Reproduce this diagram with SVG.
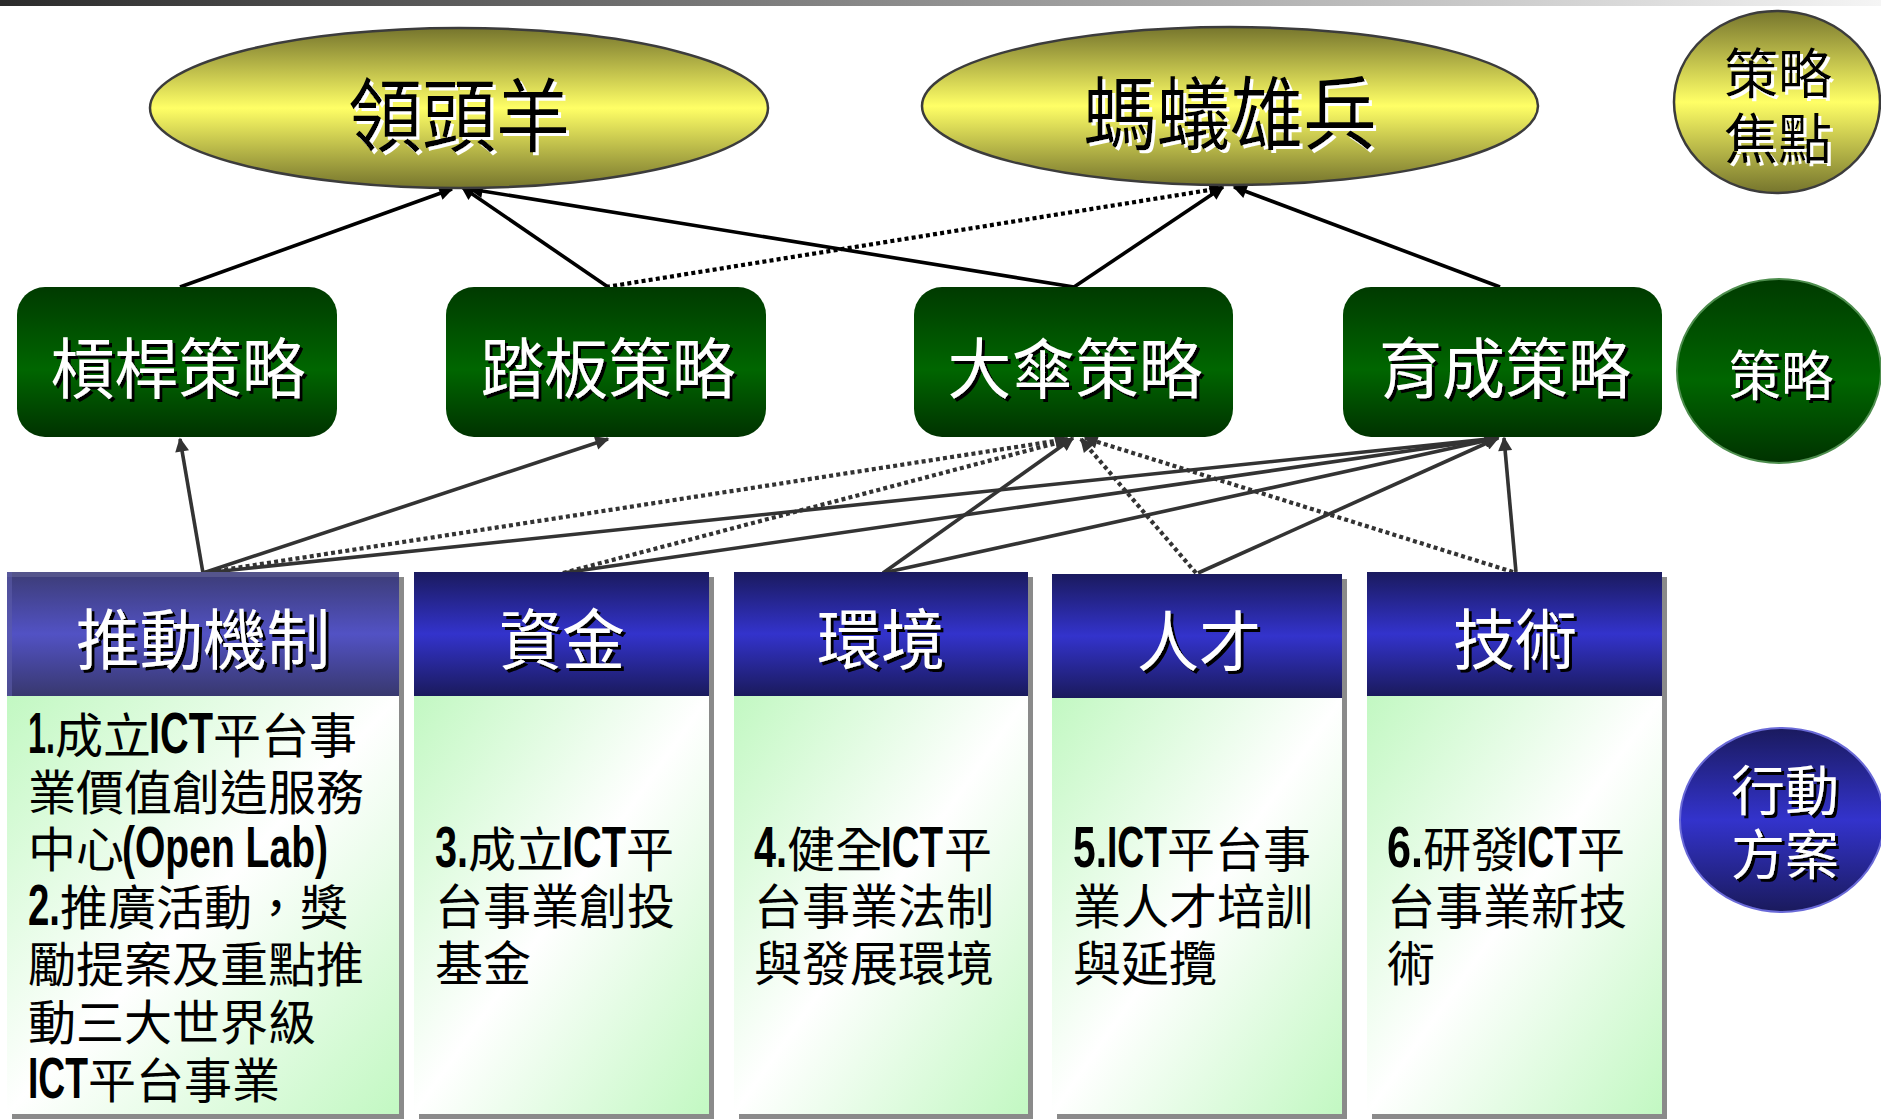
<svg xmlns="http://www.w3.org/2000/svg" width="1881" height="1119" viewBox="0 0 1881 1119">
<defs>
<linearGradient id="topbar" x1="0" y1="0" x2="1" y2="0"><stop offset="0" stop-color="#2b2b2b"/><stop offset="1" stop-color="#f5f5f5"/></linearGradient>
<linearGradient id="yel" x1="0" y1="0" x2="0" y2="1"><stop offset="0" stop-color="#76752d"/><stop offset="0.5" stop-color="#ffff66"/><stop offset="1" stop-color="#76752d"/></linearGradient>
<linearGradient id="grn" x1="0" y1="0" x2="0" y2="1"><stop offset="0" stop-color="#003a00"/><stop offset="0.55" stop-color="#006600"/><stop offset="1" stop-color="#003200"/></linearGradient>
<linearGradient id="blu" x1="0" y1="0" x2="0" y2="1"><stop offset="0" stop-color="#1a1a5e"/><stop offset="0.5" stop-color="#3333cc"/><stop offset="1" stop-color="#1a1a5c"/></linearGradient>
<linearGradient id="pur" x1="0" y1="0" x2="0" y2="1"><stop offset="0" stop-color="#3c3c76"/><stop offset="0.5" stop-color="#5252c4"/><stop offset="1" stop-color="#38386e"/></linearGradient>
<linearGradient id="body" x1="0" y1="0" x2="1" y2="1"><stop offset="0" stop-color="#c2f8c2"/><stop offset="0.5" stop-color="#ffffff"/><stop offset="1" stop-color="#c2f8c2"/></linearGradient>
<filter id="shd" x="-10%" y="-10%" width="130%" height="140%"><feDropShadow dx="3" dy="3" stdDeviation="0.4" flood-color="#000" flood-opacity="1"/></filter>
<filter id="shw" x="-10%" y="-10%" width="130%" height="140%"><feDropShadow dx="3" dy="3" stdDeviation="0.4" flood-color="#fff" flood-opacity="1"/></filter>
<marker id="ahk" viewBox="0 0 10 10" refX="9" refY="5" markerWidth="17" markerHeight="14" markerUnits="userSpaceOnUse" orient="auto"><path d="M0,0 L10,5 L0,10 z" fill="#000"/></marker>
<marker id="ahg" viewBox="0 0 10 10" refX="9" refY="5" markerWidth="17" markerHeight="14" markerUnits="userSpaceOnUse" orient="auto"><path d="M0,0 L10,5 L0,10 z" fill="#333"/></marker>
<style>
.cjk{font-family:"Noto Sans CJK TC","Noto Sans CJK SC",sans-serif;}
.ttl{font-size:80px;fill:#000;filter:url(#shw);text-anchor:middle;}
.lbl{font-size:54px;fill:#000;filter:url(#shw);text-anchor:middle;}
.wlbl{font-size:54px;fill:#fff;filter:url(#shd);text-anchor:middle;}
.str{font-size:66px;fill:#fff;filter:url(#shd);text-anchor:middle;}
.hdr{font-size:66px;fill:#fff;filter:url(#shd);text-anchor:middle;}
.bt{font-size:48px;fill:#000;}
.lat{font-family:"Liberation Sans Narrow","Liberation Sans",Arial,sans-serif;font-weight:bold;font-size:57px;}
.ell{fill:url(#yel);stroke:#3c3c3c;stroke-width:2.5;}
.srect{fill:url(#grn);}
.hd{fill:url(#blu);}
.sh{fill:#8a8a8a;}
.bd{fill:url(#body);}
.k{stroke:#000;stroke-width:3.6;fill:none;marker-end:url(#ahk);}
.g{stroke:#333;stroke-width:3.6;fill:none;marker-end:url(#ahg);}
.dot{stroke-dasharray:4 3.2;stroke-width:4.2;}
</style>
</defs>
<rect x="0" y="0" width="1881" height="6" fill="url(#topbar)"/>

<g id="connectors">
<line class="k" x1="180" y1="287" x2="452" y2="189"/>
<line class="k" x1="608" y1="287" x2="462" y2="187"/>
<line class="k" x1="1074" y1="287" x2="470" y2="189"/>
<line class="k dot" x1="606" y1="287" x2="1222" y2="188"/>
<line class="k" x1="1074" y1="287" x2="1223" y2="187"/>
<line class="k" x1="1500" y1="287" x2="1234" y2="187"/>

<line class="g" x1="203" y1="573" x2="180" y2="439"/>
<line class="g" x1="203" y1="573" x2="608" y2="439"/>
<line class="g dot" x1="203" y1="573" x2="1068" y2="439"/>
<line class="g" x1="203" y1="573" x2="1498" y2="438"/>
<line class="g dot" x1="563" y1="573" x2="1068" y2="440"/>
<line class="g" x1="563" y1="573" x2="1498" y2="438"/>
<line class="g" x1="883" y1="573" x2="1073" y2="438"/>
<line class="g" x1="883" y1="573" x2="1498" y2="438"/>
<line class="g dot" x1="1196" y1="573" x2="1081" y2="439"/>
<line class="g" x1="1198" y1="573" x2="1498" y2="438"/>
<line class="g dot" x1="1513" y1="572" x2="1085" y2="438"/>
<line class="g" x1="1516" y1="572" x2="1504" y2="438"/>
</g>

<g id="node-lingtouyang">
<ellipse class="ell" cx="459" cy="108" rx="309" ry="80"/>
<text class="cjk ttl" x="459" y="145" textLength="222" lengthAdjust="spacingAndGlyphs">領頭羊</text>
</g>
<g id="node-mayixiongbing">
<ellipse class="ell" cx="1230" cy="106" rx="308" ry="79"/>
<text class="cjk ttl" x="1230" y="143" textLength="293" lengthAdjust="spacingAndGlyphs">螞蟻雄兵</text>
</g>
<g id="node-celuejiaodian">
<ellipse class="ell" cx="1777" cy="102" rx="103" ry="91"/>
<text class="cjk lbl"><tspan x="1778" y="94">策略</tspan><tspan x="1778" y="159">焦點</tspan></text>
</g>

<g id="node-ganggan">
<rect class="srect" x="17" y="287" width="320" height="150" rx="28" ry="28"/>
<text class="cjk str" x="178" y="393" textLength="255" lengthAdjust="spacingAndGlyphs">槓桿策略</text>
</g>
<g id="node-taban">
<rect class="srect" x="446" y="287" width="320" height="150" rx="28" ry="28"/>
<text class="cjk str" x="608" y="393" textLength="255" lengthAdjust="spacingAndGlyphs">踏板策略</text>
</g>
<g id="node-dasan">
<rect class="srect" x="914" y="287" width="319" height="150" rx="28" ry="28"/>
<text class="cjk str" x="1075" y="393" textLength="255" lengthAdjust="spacingAndGlyphs">大傘策略</text>
</g>
<g id="node-yucheng">
<rect class="srect" x="1343" y="287" width="319" height="150" rx="28" ry="28"/>
<text class="cjk str" x="1505" y="393" textLength="252" lengthAdjust="spacingAndGlyphs">育成策略</text>
</g>
<g id="node-celue">
<ellipse cx="1779" cy="371" rx="102" ry="92" fill="url(#grn)" stroke="#4e8e4e" stroke-width="2"/>
<text class="cjk wlbl" x="1781" y="396" textLength="105" lengthAdjust="spacingAndGlyphs">策略</text>
</g>

<g id="col-tuidong">
<rect class="sh" x="12" y="577" width="392" height="542"/>
<rect class="bd" x="7" y="696" width="392" height="418"/>
<rect x="7" y="572" width="392" height="124" fill="url(#pur)"/>
<rect x="7" y="572" width="392" height="5" fill="#55558c"/>
<rect x="7" y="572" width="5" height="124" fill="#5c5ca8" opacity="0.6"/>
<text class="cjk hdr" x="203" y="664" textLength="254" lengthAdjust="spacingAndGlyphs">推動機制</text>
<text class="cjk bt"><tspan class="lat" x="28" y="753" textLength="27" lengthAdjust="spacingAndGlyphs">1.</tspan><tspan x="55" y="753">成立</tspan><tspan class="lat" x="149" y="753" textLength="64" lengthAdjust="spacingAndGlyphs">ICT</tspan><tspan x="213" y="753">平台事</tspan><tspan x="28" y="810">業價值創造服務</tspan><tspan x="28" y="867">中心</tspan><tspan class="lat" x="122" y="867" textLength="206" lengthAdjust="spacingAndGlyphs">(Open Lab)</tspan><tspan class="lat" x="28" y="925" textLength="32" lengthAdjust="spacingAndGlyphs">2.</tspan><tspan x="60" y="925">推廣活動，獎</tspan><tspan x="28" y="982">勵提案及重點推</tspan><tspan x="28" y="1040">動三大世界級</tspan><tspan class="lat" x="28" y="1098" textLength="60" lengthAdjust="spacingAndGlyphs">ICT</tspan><tspan x="88" y="1098">平台事業</tspan></text>
</g>

<g id="col-zijin">
<rect class="sh" x="419" y="577" width="295" height="542"/>
<rect class="bd" x="414" y="696" width="295" height="418"/>
<rect class="hd" x="414" y="572" width="295" height="124"/>
<text class="cjk hdr" x="562" y="664" textLength="126" lengthAdjust="spacingAndGlyphs">資金</text>
<text class="cjk bt"><tspan class="lat" x="435" y="867" textLength="33" lengthAdjust="spacingAndGlyphs">3.</tspan><tspan x="468" y="867">成立</tspan><tspan class="lat" x="562" y="867" textLength="64" lengthAdjust="spacingAndGlyphs">ICT</tspan><tspan x="626" y="867">平</tspan><tspan x="435" y="924">台事業創投</tspan><tspan x="435" y="981">基金</tspan></text>
</g>

<g id="col-huanjing">
<rect class="sh" x="739" y="577" width="294" height="542"/>
<rect class="bd" x="734" y="696" width="294" height="418"/>
<rect class="hd" x="734" y="572" width="294" height="124"/>
<text class="cjk hdr" x="881" y="664" textLength="128" lengthAdjust="spacingAndGlyphs">環境</text>
<text class="cjk bt"><tspan class="lat" x="754" y="867" textLength="33" lengthAdjust="spacingAndGlyphs">4.</tspan><tspan x="787" y="867">健全</tspan><tspan class="lat" x="881" y="867" textLength="62" lengthAdjust="spacingAndGlyphs">ICT</tspan><tspan x="944" y="867">平</tspan><tspan x="754" y="924">台事業法制</tspan><tspan x="754" y="981">與發展環境</tspan></text>
</g>

<g id="col-rencai">
<rect class="sh" x="1057" y="579" width="290" height="540"/>
<rect class="bd" x="1052" y="698" width="290" height="416"/>
<rect class="hd" x="1052" y="574" width="290" height="124"/>
<text class="cjk hdr" x="1199" y="666" textLength="124" lengthAdjust="spacingAndGlyphs">人才</text>
<text class="cjk bt"><tspan class="lat" x="1073" y="867" textLength="34" lengthAdjust="spacingAndGlyphs">5.</tspan><tspan class="lat" x="1107" y="867" textLength="60" lengthAdjust="spacingAndGlyphs">ICT</tspan><tspan x="1167" y="867">平台事</tspan><tspan x="1073" y="924">業人才培訓</tspan><tspan x="1073" y="981">與延攬</tspan></text>
</g>

<g id="col-jishu">
<rect class="sh" x="1372" y="577" width="295" height="542"/>
<rect class="bd" x="1367" y="696" width="295" height="418"/>
<rect class="hd" x="1367" y="572" width="295" height="124"/>
<text class="cjk hdr" x="1515" y="664" textLength="124" lengthAdjust="spacingAndGlyphs">技術</text>
<text class="cjk bt"><tspan class="lat" x="1387" y="867" textLength="36" lengthAdjust="spacingAndGlyphs">6.</tspan><tspan x="1423" y="867">研發</tspan><tspan class="lat" x="1517" y="867" textLength="60" lengthAdjust="spacingAndGlyphs">ICT</tspan><tspan x="1577" y="867">平</tspan><tspan x="1387" y="924">台事業新技</tspan><tspan x="1387" y="981">術</tspan></text>
</g>

<g id="node-xingdongfangan">
<ellipse cx="1782" cy="820" rx="102" ry="92" fill="url(#blu)" stroke="#6a6ad8" stroke-width="2"/>
<text class="cjk wlbl"><tspan x="1785" y="811">行動</tspan><tspan x="1785" y="875">方案</tspan></text>
</g>
</svg>
